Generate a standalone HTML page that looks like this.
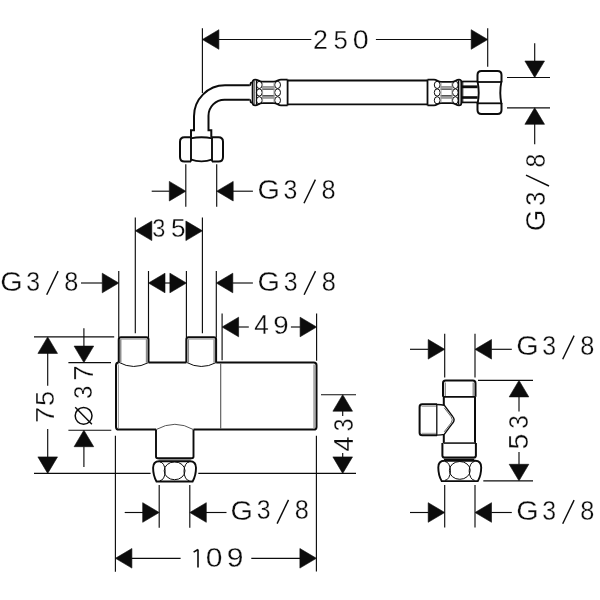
<!DOCTYPE html>
<html><head><meta charset="utf-8"><title>Dimension drawing</title>
<style>
html,body{margin:0;padding:0;background:#fff;}
body{width:600px;height:600px;overflow:hidden;font-family:"Liberation Sans",sans-serif;}
svg{display:block;filter:grayscale(1);}
text{font-family:"Liberation Sans",sans-serif;}
</style></head>
<body>
<svg width="600" height="600" viewBox="0 0 600 600">
<rect width="600" height="600" fill="#fff"/>
<line x1="202.4" y1="28.3" x2="202.4" y2="93" stroke="#0c0c0c" stroke-width="1.15" stroke-linecap="butt"/>
<line x1="487.7" y1="28.3" x2="487.7" y2="66.8" stroke="#0c0c0c" stroke-width="1.15" stroke-linecap="butt"/>
<path d="M202.4,39.5L218.9,29.7L218.9,49.3Z" fill="#0c0c0c" stroke="#0c0c0c" stroke-width="0.6" stroke-linejoin="miter"/>
<path d="M487.7,39.5L471.2,29.7L471.2,49.3Z" fill="#0c0c0c" stroke="#0c0c0c" stroke-width="0.6" stroke-linejoin="miter"/>
<line x1="218.5" y1="39.5" x2="311.3" y2="39.5" stroke="#0c0c0c" stroke-width="1.15" stroke-linecap="butt"/>
<line x1="375.9" y1="39.5" x2="471.5" y2="39.5" stroke="#0c0c0c" stroke-width="1.15" stroke-linecap="butt"/>
<text transform="translate(313.1 49.35) scale(0.26780 0.27068)" font-size="100" fill="#0c0c0c" stroke="#fff" stroke-width="1.114">2</text>
<text transform="translate(333.62 49.29) scale(0.25732 0.26514)" font-size="100" fill="#0c0c0c" stroke="#fff" stroke-width="1.148">5</text>
<text transform="translate(352.63 49.39) scale(0.28659 0.27118)" font-size="100" fill="#0c0c0c" stroke="#fff" stroke-width="1.076">0</text>
<path d="M249.6,85.3 H225 A31,31 0 0 0 194,116.3 V130.2 H191 V137.2" fill="none" stroke="#0c0c0c" stroke-width="2" />
<path d="M249.6,99.7 H224.5 A16,16 0 0 0 208.5,115.7 V130.2 H211.3 V137.2" fill="none" stroke="#0c0c0c" stroke-width="2" />
<path d="M249.4,85.3 Q250.6,85.3 250.6,83.6 Q250.6,82.4 252.6,82.4 M249.4,99.7 Q250.6,99.7 250.6,101.4 Q250.6,102.6 252.6,102.6" fill="none" stroke="#0c0c0c" stroke-width="1.8" />
<path d="M191,137.2 H184.5 Q180,137.2 180,141.7 V156.9 Q180,161.4 184.5,161.4 H191" fill="none" stroke="#0c0c0c" stroke-width="2" />
<path d="M212,137.2 H218.5 Q223,137.2 223,141.7 V156.9 Q223,161.4 218.5,161.4 H212" fill="none" stroke="#0c0c0c" stroke-width="2" />
<line x1="191" y1="137.2" x2="191" y2="161.4" stroke="#0c0c0c" stroke-width="1.9" stroke-linecap="butt"/>
<line x1="212" y1="137.2" x2="212" y2="161.4" stroke="#0c0c0c" stroke-width="1.9" stroke-linecap="butt"/>
<path d="M190.5,138.4 Q201.5,136.2 212.5,138.4" fill="none" stroke="#0c0c0c" stroke-width="1.9" />
<path d="M190.5,159.4 Q201.5,163.4 212.5,159.4" fill="none" stroke="#0c0c0c" stroke-width="1.9" />
<line x1="185.8" y1="164.3" x2="185.8" y2="206.7" stroke="#0c0c0c" stroke-width="1.15" stroke-linecap="butt"/>
<line x1="216.7" y1="164.3" x2="216.7" y2="206.7" stroke="#0c0c0c" stroke-width="1.15" stroke-linecap="butt"/>
<path d="M185.8,191.2L169.3,181.4L169.3,201Z" fill="#0c0c0c" stroke="#0c0c0c" stroke-width="0.6" stroke-linejoin="miter"/>
<path d="M216.7,191.2L233.2,181.4L233.2,201Z" fill="#0c0c0c" stroke="#0c0c0c" stroke-width="0.6" stroke-linejoin="miter"/>
<line x1="151.7" y1="191.2" x2="169.5" y2="191.2" stroke="#0c0c0c" stroke-width="1.15" stroke-linecap="butt"/>
<line x1="233" y1="191.2" x2="252.9" y2="191.2" stroke="#0c0c0c" stroke-width="1.15" stroke-linecap="butt"/>
<text transform="translate(257.5 199.48) scale(0.28798 0.27683)" font-size="100" fill="#0c0c0c" stroke="#fff" stroke-width="1.062">G</text>
<text transform="translate(283.6 199.19) scale(0.24888 0.26836)" font-size="100" fill="#0c0c0c" stroke="#fff" stroke-width="1.160">3</text>
<line x1="304" y1="203.3" x2="315.4" y2="179.6" stroke="#0c0c0c" stroke-width="1.45" stroke-linecap="butt"/>
<text transform="translate(321.55 199.19) scale(0.25360 0.26836)" font-size="100" fill="#0c0c0c" stroke="#fff" stroke-width="1.150">8</text>
<path d="M252.6,82.2 Q252.6,79.6 255.2,79.6 C258.2,79.6 259,81.7 262,81.7 H274 C277,81.7 278,79.6 281,79.6 H287.6" fill="none" stroke="#0c0c0c" stroke-width="1.8" />
<path d="M252.6,102.8 Q252.6,105.4 255.2,105.4 C258.2,105.4 259,103.2 262,103.2 H274 C277,103.2 278,105.4 281,105.4 H287.6" fill="none" stroke="#0c0c0c" stroke-width="1.8" />
<line x1="252.6" y1="82" x2="252.6" y2="103" stroke="#0c0c0c" stroke-width="1.8" stroke-linecap="butt"/>
<line x1="254.6" y1="80.6" x2="254.6" y2="104.4" stroke="#555" stroke-width="0.9" stroke-linecap="butt"/>
<line x1="256.5" y1="80.2" x2="256.5" y2="104.8" stroke="#0c0c0c" stroke-width="1.2" stroke-linecap="butt"/>
<line x1="287.6" y1="79.6" x2="287.6" y2="105.4" stroke="#0c0c0c" stroke-width="1.8" stroke-linecap="butt"/>
<path d="M427.5,79.6 H434 C437,79.6 438,81.9 441,81.9 H452 C455,81.9 456,79.6 459,79.6 Q461.4,79.6 461.4,82.2" fill="none" stroke="#0c0c0c" stroke-width="1.8" />
<path d="M427.5,105.4 H434 C437,105.4 438,103.1 441,103.1 H452 C455,103.1 456,105.4 459,105.4 Q461.4,105.4 461.4,102.8" fill="none" stroke="#0c0c0c" stroke-width="1.8" />
<line x1="461.4" y1="82" x2="461.4" y2="103" stroke="#0c0c0c" stroke-width="1.8" stroke-linecap="butt"/>
<line x1="427.5" y1="79.6" x2="427.5" y2="105.4" stroke="#0c0c0c" stroke-width="1.8" stroke-linecap="butt"/>
<line x1="458.4" y1="80.2" x2="458.4" y2="104.8" stroke="#0c0c0c" stroke-width="1.2" stroke-linecap="butt"/>
<line x1="460" y1="80.6" x2="460" y2="104.4" stroke="#555" stroke-width="0.9" stroke-linecap="butt"/>
<ellipse cx="259.3" cy="84.9" rx="2.9" ry="3.6" fill="none" stroke="#0c0c0c" stroke-width="1"/>
<ellipse cx="259.3" cy="92.5" rx="2.9" ry="3.6" fill="none" stroke="#0c0c0c" stroke-width="1"/>
<ellipse cx="259.3" cy="100.3" rx="2.9" ry="3.6" fill="none" stroke="#0c0c0c" stroke-width="1"/>
<ellipse cx="277.6" cy="84.9" rx="2.9" ry="3.6" fill="none" stroke="#0c0c0c" stroke-width="1"/>
<ellipse cx="277.6" cy="92.5" rx="2.9" ry="3.6" fill="none" stroke="#0c0c0c" stroke-width="1"/>
<ellipse cx="277.6" cy="100.3" rx="2.9" ry="3.6" fill="none" stroke="#0c0c0c" stroke-width="1"/>
<ellipse cx="437.2" cy="84.9" rx="2.9" ry="3.6" fill="none" stroke="#0c0c0c" stroke-width="1"/>
<ellipse cx="437.2" cy="92.5" rx="2.9" ry="3.6" fill="none" stroke="#0c0c0c" stroke-width="1"/>
<ellipse cx="437.2" cy="100.3" rx="2.9" ry="3.6" fill="none" stroke="#0c0c0c" stroke-width="1"/>
<ellipse cx="455.4" cy="84.9" rx="2.9" ry="3.6" fill="none" stroke="#0c0c0c" stroke-width="1"/>
<ellipse cx="455.4" cy="92.5" rx="2.9" ry="3.6" fill="none" stroke="#0c0c0c" stroke-width="1"/>
<ellipse cx="455.4" cy="100.3" rx="2.9" ry="3.6" fill="none" stroke="#0c0c0c" stroke-width="1"/>
<line x1="262" y1="86.9" x2="274.5" y2="86.9" stroke="#555" stroke-width="1" stroke-linecap="butt"/>
<line x1="262" y1="89.4" x2="274.5" y2="89.4" stroke="#555" stroke-width="1" stroke-linecap="butt"/>
<line x1="262" y1="95.5" x2="274.5" y2="95.5" stroke="#555" stroke-width="1" stroke-linecap="butt"/>
<line x1="262" y1="98" x2="274.5" y2="98" stroke="#555" stroke-width="1" stroke-linecap="butt"/>
<line x1="262" y1="88.15" x2="274.5" y2="88.15" stroke="#8a8a8a" stroke-width="1.4" stroke-linecap="butt"/>
<line x1="262" y1="96.75" x2="274.5" y2="96.75" stroke="#8a8a8a" stroke-width="1.4" stroke-linecap="butt"/>
<line x1="262.6" y1="82.5" x2="262.6" y2="102.5" stroke="#999" stroke-width="0.8" stroke-linecap="butt"/>
<line x1="273.9" y1="82.5" x2="273.9" y2="102.5" stroke="#999" stroke-width="0.8" stroke-linecap="butt"/>
<line x1="440.5" y1="86.9" x2="452.5" y2="86.9" stroke="#555" stroke-width="1" stroke-linecap="butt"/>
<line x1="440.5" y1="89.4" x2="452.5" y2="89.4" stroke="#555" stroke-width="1" stroke-linecap="butt"/>
<line x1="440.5" y1="95.5" x2="452.5" y2="95.5" stroke="#555" stroke-width="1" stroke-linecap="butt"/>
<line x1="440.5" y1="98" x2="452.5" y2="98" stroke="#555" stroke-width="1" stroke-linecap="butt"/>
<line x1="440.5" y1="88.15" x2="452.5" y2="88.15" stroke="#8a8a8a" stroke-width="1.4" stroke-linecap="butt"/>
<line x1="440.5" y1="96.75" x2="452.5" y2="96.75" stroke="#8a8a8a" stroke-width="1.4" stroke-linecap="butt"/>
<line x1="441.1" y1="82.5" x2="441.1" y2="102.5" stroke="#999" stroke-width="0.8" stroke-linecap="butt"/>
<line x1="451.9" y1="82.5" x2="451.9" y2="102.5" stroke="#999" stroke-width="0.8" stroke-linecap="butt"/>
<line x1="287.6" y1="80.5" x2="427.5" y2="80.5" stroke="#0c0c0c" stroke-width="1.9" stroke-linecap="butt"/>
<line x1="287.6" y1="104.4" x2="427.5" y2="104.4" stroke="#0c0c0c" stroke-width="1.9" stroke-linecap="butt"/>
<line x1="461.4" y1="81.5" x2="477.6" y2="81.5" stroke="#0c0c0c" stroke-width="1.7" stroke-linecap="butt"/>
<line x1="461.4" y1="102.4" x2="477.6" y2="102.4" stroke="#0c0c0c" stroke-width="1.7" stroke-linecap="butt"/>
<rect x="462" y="85.4" width="15.6" height="2.8" fill="#0c0c0c"/>
<rect x="462" y="96.2" width="15.6" height="2.6" fill="#0c0c0c"/>
<line x1="462.8" y1="81.5" x2="462.8" y2="102.4" stroke="#0c0c0c" stroke-width="1" stroke-linecap="butt"/>
<path d="M477.5,82.2 V75 Q477.5,71 481.5,71 H497.5 Q501.5,71 501.5,75 V82.2" fill="none" stroke="#0c0c0c" stroke-width="2" />
<path d="M477.5,103.1 V110.1 Q477.5,114.1 481.5,114.1 H497.5 Q501.5,114.1 501.5,110.1 V103.1" fill="none" stroke="#0c0c0c" stroke-width="2" />
<path d="M477.6,81.4 Q479.8,92.6 477.6,104 M501.4,81.4 Q499.2,92.6 501.4,104" fill="none" stroke="#0c0c0c" stroke-width="1.9" />
<line x1="477.5" y1="82" x2="501.5" y2="82" stroke="#0c0c0c" stroke-width="1.8" stroke-linecap="butt"/>
<line x1="477.5" y1="103.3" x2="501.5" y2="103.3" stroke="#0c0c0c" stroke-width="1.8" stroke-linecap="butt"/>
<line x1="507" y1="77.5" x2="550" y2="77.5" stroke="#0c0c0c" stroke-width="1.15" stroke-linecap="butt"/>
<line x1="507" y1="107.8" x2="550" y2="107.8" stroke="#0c0c0c" stroke-width="1.15" stroke-linecap="butt"/>
<path d="M534.7,77.5L524.9,61L544.5,61Z" fill="#0c0c0c" stroke="#0c0c0c" stroke-width="0.6" stroke-linejoin="miter"/>
<path d="M534.7,107.8L524.9,124.3L544.5,124.3Z" fill="#0c0c0c" stroke="#0c0c0c" stroke-width="0.6" stroke-linejoin="miter"/>
<line x1="534.7" y1="43.3" x2="534.7" y2="61.2" stroke="#0c0c0c" stroke-width="1.15" stroke-linecap="butt"/>
<line x1="534.7" y1="124.1" x2="534.7" y2="144.3" stroke="#0c0c0c" stroke-width="1.15" stroke-linecap="butt"/>
<text transform="translate(544.88 231.25) rotate(-90) scale(0.27879 0.27542)" font-size="100" fill="#0c0c0c" stroke="#fff" stroke-width="1.083">G</text>
<text transform="translate(544.78 205.81) rotate(-90) scale(0.25310 0.27260)" font-size="100" fill="#0c0c0c" stroke="#fff" stroke-width="1.141">3</text>
<line x1="526" y1="175.2" x2="549" y2="186" stroke="#0c0c0c" stroke-width="1.45" stroke-linecap="butt"/>
<text transform="translate(544.78 167.42) rotate(-90) scale(0.24508 0.27260)" font-size="100" fill="#0c0c0c" stroke="#fff" stroke-width="1.159">8</text>
<line x1="135.3" y1="217.5" x2="135.3" y2="333.3" stroke="#0c0c0c" stroke-width="1.15" stroke-linecap="butt"/>
<line x1="202.4" y1="217.5" x2="202.4" y2="333.3" stroke="#0c0c0c" stroke-width="1.15" stroke-linecap="butt"/>
<path d="M135.3,230.8L151.8,221L151.8,240.6Z" fill="#0c0c0c" stroke="#0c0c0c" stroke-width="0.6" stroke-linejoin="miter"/>
<path d="M202.4,230.8L185.9,221L185.9,240.6Z" fill="#0c0c0c" stroke="#0c0c0c" stroke-width="0.6" stroke-linejoin="miter"/>
<text transform="translate(152.25 237.3) scale(0.23623 0.25988)" font-size="100" fill="#0c0c0c" stroke="#fff" stroke-width="1.209">3</text>
<text transform="translate(170.9 237.3) scale(0.26154 0.25510)" font-size="100" fill="#0c0c0c" stroke="#fff" stroke-width="1.161">5</text>
<line x1="118.75" y1="271" x2="118.75" y2="337.5" stroke="#0c0c0c" stroke-width="1.15" stroke-linecap="butt"/>
<line x1="148.5" y1="271" x2="148.5" y2="337.5" stroke="#0c0c0c" stroke-width="1.15" stroke-linecap="butt"/>
<line x1="186.4" y1="271" x2="186.4" y2="337.5" stroke="#0c0c0c" stroke-width="1.15" stroke-linecap="butt"/>
<line x1="216.3" y1="271" x2="216.3" y2="337.5" stroke="#0c0c0c" stroke-width="1.15" stroke-linecap="butt"/>
<path d="M118.75,283L102.25,273.2L102.25,292.8Z" fill="#0c0c0c" stroke="#0c0c0c" stroke-width="0.6" stroke-linejoin="miter"/>
<line x1="81" y1="283" x2="102.5" y2="283" stroke="#0c0c0c" stroke-width="1.15" stroke-linecap="butt"/>
<path d="M148.5,283L165,273.2L165,292.8Z" fill="#0c0c0c" stroke="#0c0c0c" stroke-width="0.6" stroke-linejoin="miter"/>
<path d="M186.4,283L169.9,273.2L169.9,292.8Z" fill="#0c0c0c" stroke="#0c0c0c" stroke-width="0.6" stroke-linejoin="miter"/>
<line x1="164" y1="283" x2="171" y2="283" stroke="#0c0c0c" stroke-width="1.15" stroke-linecap="butt"/>
<path d="M216.3,283L232.8,273.2L232.8,292.8Z" fill="#0c0c0c" stroke="#0c0c0c" stroke-width="0.6" stroke-linejoin="miter"/>
<line x1="232.5" y1="283" x2="252.9" y2="283" stroke="#0c0c0c" stroke-width="1.15" stroke-linecap="butt"/>
<text transform="translate(0.2 290.98) scale(0.28798 0.27683)" font-size="100" fill="#0c0c0c" stroke="#fff" stroke-width="1.062">G</text>
<text transform="translate(26.3 290.69) scale(0.24888 0.26836)" font-size="100" fill="#0c0c0c" stroke="#fff" stroke-width="1.160">3</text>
<line x1="46.7" y1="294.8" x2="58.1" y2="271.1" stroke="#0c0c0c" stroke-width="1.45" stroke-linecap="butt"/>
<text transform="translate(64.25 290.69) scale(0.25360 0.26836)" font-size="100" fill="#0c0c0c" stroke="#fff" stroke-width="1.150">8</text>
<text transform="translate(257.6 290.98) scale(0.28798 0.27683)" font-size="100" fill="#0c0c0c" stroke="#fff" stroke-width="1.062">G</text>
<text transform="translate(283.7 290.69) scale(0.24888 0.26836)" font-size="100" fill="#0c0c0c" stroke="#fff" stroke-width="1.160">3</text>
<line x1="304.1" y1="294.8" x2="315.5" y2="271.1" stroke="#0c0c0c" stroke-width="1.45" stroke-linecap="butt"/>
<text transform="translate(321.65 290.69) scale(0.25360 0.26836)" font-size="100" fill="#0c0c0c" stroke="#fff" stroke-width="1.150">8</text>
<line x1="222.1" y1="313.5" x2="222.1" y2="360.2" stroke="#0c0c0c" stroke-width="1.15" stroke-linecap="butt"/>
<line x1="316.6" y1="313.5" x2="316.6" y2="360.7" stroke="#0c0c0c" stroke-width="1.15" stroke-linecap="butt"/>
<path d="M222.1,327L238.6,317.2L238.6,336.8Z" fill="#0c0c0c" stroke="#0c0c0c" stroke-width="0.6" stroke-linejoin="miter"/>
<path d="M316.6,327L300.1,317.2L300.1,336.8Z" fill="#0c0c0c" stroke="#0c0c0c" stroke-width="0.6" stroke-linejoin="miter"/>
<line x1="238.4" y1="327" x2="248.8" y2="327" stroke="#0c0c0c" stroke-width="1.15" stroke-linecap="butt"/>
<line x1="290.9" y1="327" x2="300.3" y2="327" stroke="#0c0c0c" stroke-width="1.15" stroke-linecap="butt"/>
<text transform="translate(254.35 333.95) scale(0.26195 0.27762)" font-size="100" fill="#0c0c0c" stroke="#fff" stroke-width="1.112">4</text>
<text transform="translate(273.25 333.7) scale(0.27711 0.25282)" font-size="100" fill="#0c0c0c" stroke="#fff" stroke-width="1.132">9</text>
<path d="M118.75,362.3 V339.6 Q118.75,337.3 121.05,337.3 H146.2 Q148.5,337.3 148.5,339.6 V362.6" fill="none" stroke="#0c0c0c" stroke-width="2" />
<path d="M118.75,362.3 Q133.62,370.5 148.5,362.6" fill="none" stroke="#0c0c0c" stroke-width="1" />
<line x1="120.75" y1="339.2" x2="120.75" y2="362.8" stroke="#8a8a8a" stroke-width="1.4" stroke-linecap="butt"/>
<line x1="146.5" y1="339.2" x2="146.5" y2="362.8" stroke="#8a8a8a" stroke-width="1.4" stroke-linecap="butt"/>
<line x1="120.25" y1="339.1" x2="147" y2="339.1" stroke="#9a9a9a" stroke-width="1" stroke-linecap="butt"/>
<path d="M186.35,362.3 V339.6 Q186.35,337.3 188.65,337.3 H213.8 Q216.1,337.3 216.1,339.6 V362.6" fill="none" stroke="#0c0c0c" stroke-width="2" />
<path d="M186.35,362.3 Q201.22,370.5 216.1,362.6" fill="none" stroke="#0c0c0c" stroke-width="1" />
<line x1="188.35" y1="339.2" x2="188.35" y2="362.8" stroke="#8a8a8a" stroke-width="1.4" stroke-linecap="butt"/>
<line x1="214.1" y1="339.2" x2="214.1" y2="362.8" stroke="#8a8a8a" stroke-width="1.4" stroke-linecap="butt"/>
<line x1="187.85" y1="339.1" x2="214.6" y2="339.1" stroke="#9a9a9a" stroke-width="1" stroke-linecap="butt"/>
<path d="M118.75,362.6 Q116,362.6 116,365.6 V426.9 Q116,429.6 118.8,429.6 H156" fill="none" stroke="#0c0c0c" stroke-width="2" />
<path d="M148.5,362.6 H186.4" fill="none" stroke="#0c0c0c" stroke-width="2" />
<path d="M216.2,362.6 H313.8 Q316.5,362.6 316.5,365.3 V426.9 Q316.5,429.6 313.8,429.6 H193.5" fill="none" stroke="#0c0c0c" stroke-width="2" />
<line x1="220.7" y1="363.5" x2="220.7" y2="428.8" stroke="#555" stroke-width="1.1" stroke-linecap="butt"/>
<line x1="118.4" y1="364.5" x2="118.4" y2="428.2" stroke="#888" stroke-width="0.9" stroke-linecap="butt"/>
<line x1="314.2" y1="364.5" x2="314.2" y2="428.2" stroke="#aaa" stroke-width="2" stroke-linecap="butt"/>
<path d="M156,429.6 V456.6 Q156,458.3 157.7,458.3 H191.8 Q193.5,458.3 193.5,456.6 V429.6" fill="none" stroke="#0c0c0c" stroke-width="1.9" />
<path d="M156,429.6 Q175,419 193.5,429.6" fill="none" stroke="#555" stroke-width="1" />
<line x1="158.5" y1="459.8" x2="191" y2="459.8" stroke="#777" stroke-width="1.1" stroke-linecap="butt"/>
<g transform="translate(0 0)">
<path d="M159.2,461.2 H190 C194.2,461.2 196,463.4 196,467.8 C196,472.5 194.6,478 192.6,481.5 H156.5 C154.5,478 153.1,472.5 153.1,467.8 C153.1,463.4 155,461.2 159.2,461.2 Z" fill="none" stroke="#0c0c0c" stroke-width="1.9" />
<ellipse cx="174.6" cy="470.8" rx="10.4" ry="8.9" fill="none" stroke="#0c0c0c" stroke-width="1"/>
<path d="M159.8,461.9 A5.4,9.4 0 0 1 159.8,480.7 M189.4,461.9 A5.4,9.4 0 0 0 189.4,480.7" fill="none" stroke="#0c0c0c" stroke-width="1" />
</g>
<line x1="34" y1="336.9" x2="114.2" y2="336.9" stroke="#0c0c0c" stroke-width="1.15" stroke-linecap="butt"/>
<line x1="34" y1="473.4" x2="150.6" y2="473.4" stroke="#0c0c0c" stroke-width="1.15" stroke-linecap="butt"/>
<path d="M47.7,336.9L37.9,353.4L57.5,353.4Z" fill="#0c0c0c" stroke="#0c0c0c" stroke-width="0.6" stroke-linejoin="miter"/>
<path d="M47.7,473.4L37.9,456.9L57.5,456.9Z" fill="#0c0c0c" stroke="#0c0c0c" stroke-width="0.6" stroke-linejoin="miter"/>
<line x1="47.7" y1="353" x2="47.7" y2="385.7" stroke="#0c0c0c" stroke-width="1.15" stroke-linecap="butt"/>
<line x1="47.7" y1="429" x2="47.7" y2="457" stroke="#0c0c0c" stroke-width="1.15" stroke-linecap="butt"/>
<text transform="translate(53.89 405.94) rotate(-90) scale(0.27208 0.26227)" font-size="100" fill="#0c0c0c" stroke="#fff" stroke-width="1.123">5</text>
<text transform="translate(54.15 423.18) rotate(-90) scale(0.29917 0.26599)" font-size="100" fill="#0c0c0c" stroke="#fff" stroke-width="1.062">7</text>
<line x1="68.4" y1="362.6" x2="111" y2="362.6" stroke="#0c0c0c" stroke-width="1.15" stroke-linecap="butt"/>
<line x1="68.4" y1="430.2" x2="111.3" y2="430.2" stroke="#0c0c0c" stroke-width="1.15" stroke-linecap="butt"/>
<path d="M83.9,362.6L74.1,346.1L93.7,346.1Z" fill="#0c0c0c" stroke="#0c0c0c" stroke-width="0.6" stroke-linejoin="miter"/>
<path d="M83.9,430.2L74.1,446.7L93.7,446.7Z" fill="#0c0c0c" stroke="#0c0c0c" stroke-width="0.6" stroke-linejoin="miter"/>
<line x1="83.9" y1="328.2" x2="83.9" y2="346.3" stroke="#0c0c0c" stroke-width="1.15" stroke-linecap="butt"/>
<line x1="83.9" y1="446.6" x2="83.9" y2="467.1" stroke="#0c0c0c" stroke-width="1.15" stroke-linecap="butt"/>
<text transform="translate(92.65 380.87) rotate(-90) scale(0.27717 0.26745)" font-size="100" fill="#0c0c0c" stroke="#fff" stroke-width="1.102">7</text>
<text transform="translate(92.4 398.97) rotate(-90) scale(0.24044 0.25988)" font-size="100" fill="#0c0c0c" stroke="#fff" stroke-width="1.199">3</text>
<circle cx="83.6" cy="415.8" r="8.4" fill="none" stroke="#0c0c0c" stroke-width="1.5"/>
<line x1="75.2" y1="407.3" x2="91.9" y2="424.3" stroke="#0c0c0c" stroke-width="1.45" stroke-linecap="butt"/>
<line x1="198.3" y1="473.4" x2="356" y2="473.4" stroke="#0c0c0c" stroke-width="1.15" stroke-linecap="butt"/>
<line x1="321" y1="394.7" x2="356" y2="394.7" stroke="#0c0c0c" stroke-width="1.15" stroke-linecap="butt"/>
<path d="M342.7,394.7L332.9,411.2L352.5,411.2Z" fill="#0c0c0c" stroke="#0c0c0c" stroke-width="0.6" stroke-linejoin="miter"/>
<path d="M342.7,473.4L332.9,456.9L352.5,456.9Z" fill="#0c0c0c" stroke="#0c0c0c" stroke-width="0.6" stroke-linejoin="miter"/>
<line x1="342.7" y1="411" x2="342.7" y2="416" stroke="#0c0c0c" stroke-width="1.15" stroke-linecap="butt"/>
<line x1="342.7" y1="453.1" x2="342.7" y2="457.2" stroke="#0c0c0c" stroke-width="1.15" stroke-linecap="butt"/>
<text transform="translate(352.88 431.22) rotate(-90) scale(0.22779 0.27683)" font-size="100" fill="#0c0c0c" stroke="#fff" stroke-width="1.189">3</text>
<text transform="translate(353.15 451.57) rotate(-90) scale(0.26989 0.28489)" font-size="100" fill="#0c0c0c" stroke="#fff" stroke-width="1.082">4</text>
<line x1="115.4" y1="435.7" x2="115.4" y2="571.7" stroke="#0c0c0c" stroke-width="1.15" stroke-linecap="butt"/>
<line x1="316.4" y1="435.7" x2="316.4" y2="571.5" stroke="#0c0c0c" stroke-width="1.15" stroke-linecap="butt"/>
<path d="M115.4,558.3L131.9,548.5L131.9,568.1Z" fill="#0c0c0c" stroke="#0c0c0c" stroke-width="0.6" stroke-linejoin="miter"/>
<path d="M316.4,558.3L299.9,548.5L299.9,568.1Z" fill="#0c0c0c" stroke="#0c0c0c" stroke-width="0.6" stroke-linejoin="miter"/>
<line x1="131.5" y1="558.3" x2="180.6" y2="558.3" stroke="#0c0c0c" stroke-width="1.15" stroke-linecap="butt"/>
<line x1="251.3" y1="558.3" x2="300.2" y2="558.3" stroke="#0c0c0c" stroke-width="1.15" stroke-linecap="butt"/>
<path d="M198,567.6 L198,549.5 M198,549.5 L193.6,552.1" fill="none" stroke="#0c0c0c" stroke-width="1.6" stroke-linecap="butt" stroke-linejoin="miter"/>
<text transform="translate(205.87 567.48) scale(0.30124 0.27966)" font-size="100" fill="#0c0c0c" stroke="#fff" stroke-width="1.033">0</text>
<text transform="translate(226.74 567.48) scale(0.30092 0.27966)" font-size="100" fill="#0c0c0c" stroke="#fff" stroke-width="1.033">9</text>
<line x1="159.2" y1="485" x2="159.2" y2="527.7" stroke="#0c0c0c" stroke-width="1.15" stroke-linecap="butt"/>
<line x1="189.8" y1="485" x2="189.8" y2="527.7" stroke="#0c0c0c" stroke-width="1.15" stroke-linecap="butt"/>
<path d="M159.2,512.5L142.7,502.7L142.7,522.3Z" fill="#0c0c0c" stroke="#0c0c0c" stroke-width="0.6" stroke-linejoin="miter"/>
<path d="M189.8,512.5L206.3,502.7L206.3,522.3Z" fill="#0c0c0c" stroke="#0c0c0c" stroke-width="0.6" stroke-linejoin="miter"/>
<line x1="124.7" y1="512.5" x2="143" y2="512.5" stroke="#0c0c0c" stroke-width="1.15" stroke-linecap="butt"/>
<line x1="206" y1="512.5" x2="226.5" y2="512.5" stroke="#0c0c0c" stroke-width="1.15" stroke-linecap="butt"/>
<text transform="translate(230.6 519.78) scale(0.28798 0.27683)" font-size="100" fill="#0c0c0c" stroke="#fff" stroke-width="1.062">G</text>
<text transform="translate(256.7 519.49) scale(0.24888 0.26836)" font-size="100" fill="#0c0c0c" stroke="#fff" stroke-width="1.160">3</text>
<line x1="277.1" y1="523.6" x2="288.5" y2="499.9" stroke="#0c0c0c" stroke-width="1.45" stroke-linecap="butt"/>
<text transform="translate(294.65 519.49) scale(0.25360 0.26836)" font-size="100" fill="#0c0c0c" stroke="#fff" stroke-width="1.150">8</text>
<line x1="444.7" y1="333.7" x2="444.7" y2="377.5" stroke="#0c0c0c" stroke-width="1.15" stroke-linecap="butt"/>
<line x1="475" y1="333.7" x2="475" y2="377.5" stroke="#0c0c0c" stroke-width="1.15" stroke-linecap="butt"/>
<path d="M444.7,349.3L428.2,339.5L428.2,359.1Z" fill="#0c0c0c" stroke="#0c0c0c" stroke-width="0.6" stroke-linejoin="miter"/>
<path d="M475,349.3L491.5,339.5L491.5,359.1Z" fill="#0c0c0c" stroke="#0c0c0c" stroke-width="0.6" stroke-linejoin="miter"/>
<line x1="410" y1="349.3" x2="428.5" y2="349.3" stroke="#0c0c0c" stroke-width="1.15" stroke-linecap="butt"/>
<line x1="491.3" y1="349.3" x2="511.8" y2="349.3" stroke="#0c0c0c" stroke-width="1.15" stroke-linecap="butt"/>
<text transform="translate(516.2 355.48) scale(0.28798 0.27683)" font-size="100" fill="#0c0c0c" stroke="#fff" stroke-width="1.062">G</text>
<text transform="translate(542.3 355.19) scale(0.24888 0.26836)" font-size="100" fill="#0c0c0c" stroke="#fff" stroke-width="1.160">3</text>
<line x1="562.7" y1="359.3" x2="574.1" y2="335.6" stroke="#0c0c0c" stroke-width="1.45" stroke-linecap="butt"/>
<text transform="translate(580.25 355.19) scale(0.25360 0.26836)" font-size="100" fill="#0c0c0c" stroke="#fff" stroke-width="1.150">8</text>
<line x1="444.7" y1="485" x2="444.7" y2="527.5" stroke="#0c0c0c" stroke-width="1.15" stroke-linecap="butt"/>
<line x1="475" y1="485" x2="475" y2="527.5" stroke="#0c0c0c" stroke-width="1.15" stroke-linecap="butt"/>
<path d="M444.7,512.5L428.2,502.7L428.2,522.3Z" fill="#0c0c0c" stroke="#0c0c0c" stroke-width="0.6" stroke-linejoin="miter"/>
<path d="M475,512.5L491.5,502.7L491.5,522.3Z" fill="#0c0c0c" stroke="#0c0c0c" stroke-width="0.6" stroke-linejoin="miter"/>
<line x1="410" y1="512.5" x2="428.5" y2="512.5" stroke="#0c0c0c" stroke-width="1.15" stroke-linecap="butt"/>
<line x1="491.3" y1="512.5" x2="511.8" y2="512.5" stroke="#0c0c0c" stroke-width="1.15" stroke-linecap="butt"/>
<text transform="translate(516.2 519.98) scale(0.28798 0.27683)" font-size="100" fill="#0c0c0c" stroke="#fff" stroke-width="1.062">G</text>
<text transform="translate(542.3 519.69) scale(0.24888 0.26836)" font-size="100" fill="#0c0c0c" stroke="#fff" stroke-width="1.160">3</text>
<line x1="562.7" y1="523.8" x2="574.1" y2="500.1" stroke="#0c0c0c" stroke-width="1.45" stroke-linecap="butt"/>
<text transform="translate(580.25 519.69) scale(0.25360 0.26836)" font-size="100" fill="#0c0c0c" stroke="#fff" stroke-width="1.150">8</text>
<line x1="478" y1="380.4" x2="533" y2="380.4" stroke="#0c0c0c" stroke-width="1.15" stroke-linecap="butt"/>
<line x1="483.3" y1="480.8" x2="533" y2="480.8" stroke="#0c0c0c" stroke-width="1.15" stroke-linecap="butt"/>
<path d="M519,380.4L509.2,396.9L528.8,396.9Z" fill="#0c0c0c" stroke="#0c0c0c" stroke-width="0.6" stroke-linejoin="miter"/>
<path d="M519,480.8L509.2,464.3L528.8,464.3Z" fill="#0c0c0c" stroke="#0c0c0c" stroke-width="0.6" stroke-linejoin="miter"/>
<line x1="519" y1="396.5" x2="519" y2="411.4" stroke="#0c0c0c" stroke-width="1.15" stroke-linecap="butt"/>
<line x1="519" y1="452" x2="519" y2="464.5" stroke="#0c0c0c" stroke-width="1.15" stroke-linecap="butt"/>
<text transform="translate(528.39 428.67) rotate(-90) scale(0.24255 0.26836)" font-size="100" fill="#0c0c0c" stroke="#fff" stroke-width="1.174">3</text>
<text transform="translate(528.38 449.59) rotate(-90) scale(0.28474 0.27230)" font-size="100" fill="#0c0c0c" stroke="#fff" stroke-width="1.077">5</text>
<path d="M443,396.8 V383.2 Q443,380.6 445.6,380.6 H472.9 Q475.5,380.6 475.5,383.2 V396.8" fill="none" stroke="#0c0c0c" stroke-width="2" />
<line x1="443" y1="396.8" x2="475.5" y2="396.8" stroke="#0c0c0c" stroke-width="1.8" stroke-linecap="butt"/>
<line x1="445.3" y1="382.5" x2="445.3" y2="396" stroke="#8a8a8a" stroke-width="1.3" stroke-linecap="butt"/>
<line x1="473.2" y1="382.5" x2="473.2" y2="396" stroke="#8a8a8a" stroke-width="1.3" stroke-linecap="butt"/>
<path d="M443.8,396.8 V405 M443.8,434.7 V443.2 M475,396.8 V443.2" fill="none" stroke="#0c0c0c" stroke-width="2" />
<line x1="443.8" y1="443.1" x2="475" y2="443.1" stroke="#333" stroke-width="1.8" stroke-linecap="butt"/>
<path d="M442.4,443.1 V455.4 Q442.4,457.5 444.5,457.5 H473.8 Q475.9,457.5 475.9,455.4 V443.1" fill="none" stroke="#0c0c0c" stroke-width="2" />
<line x1="444" y1="459.5" x2="474.2" y2="459.5" stroke="#0c0c0c" stroke-width="1.8" stroke-linecap="butt"/>
<g transform="translate(285.2 -0.4)">
<path d="M159.2,461.2 H190 C194.2,461.2 196,463.4 196,467.8 C196,472.5 194.6,478 192.6,481.5 H156.5 C154.5,478 153.1,472.5 153.1,467.8 C153.1,463.4 155,461.2 159.2,461.2 Z" fill="none" stroke="#0c0c0c" stroke-width="1.9" />
<ellipse cx="174.6" cy="470.8" rx="10.4" ry="8.9" fill="none" stroke="#0c0c0c" stroke-width="1"/>
<path d="M159.8,461.9 A5.4,9.4 0 0 1 159.8,480.7 M189.4,461.9 A5.4,9.4 0 0 0 189.4,480.7" fill="none" stroke="#0c0c0c" stroke-width="1" />
</g>
<path d="M437,404.3 H422.2 Q419.6,404.3 419.6,406.9 V432.7 Q419.6,435.3 422.2,435.3 H437" fill="none" stroke="#0c0c0c" stroke-width="2" />
<line x1="436.8" y1="404.3" x2="436.8" y2="435.3" stroke="#0c0c0c" stroke-width="1.3" stroke-linecap="butt"/>
<line x1="421.5" y1="406.3" x2="436" y2="406.3" stroke="#999" stroke-width="1" stroke-linecap="butt"/>
<line x1="421.5" y1="433.3" x2="436" y2="433.3" stroke="#999" stroke-width="1" stroke-linecap="butt"/>
<path d="M437,404.5 Q441.5,404.5 444.2,405.2 L452.6,416.4 Q455.6,419.8 452.6,423.2 L444.2,434.4 Q441.5,435.1 437,435.1" fill="none" stroke="#0c0c0c" stroke-width="1.4" />
<path d="M444.2,407.8 L451.2,416.8 Q453.4,419.8 451.2,422.8 L444.2,431.8" fill="none" stroke="#555" stroke-width="0.9" />
</svg>
</body></html>
